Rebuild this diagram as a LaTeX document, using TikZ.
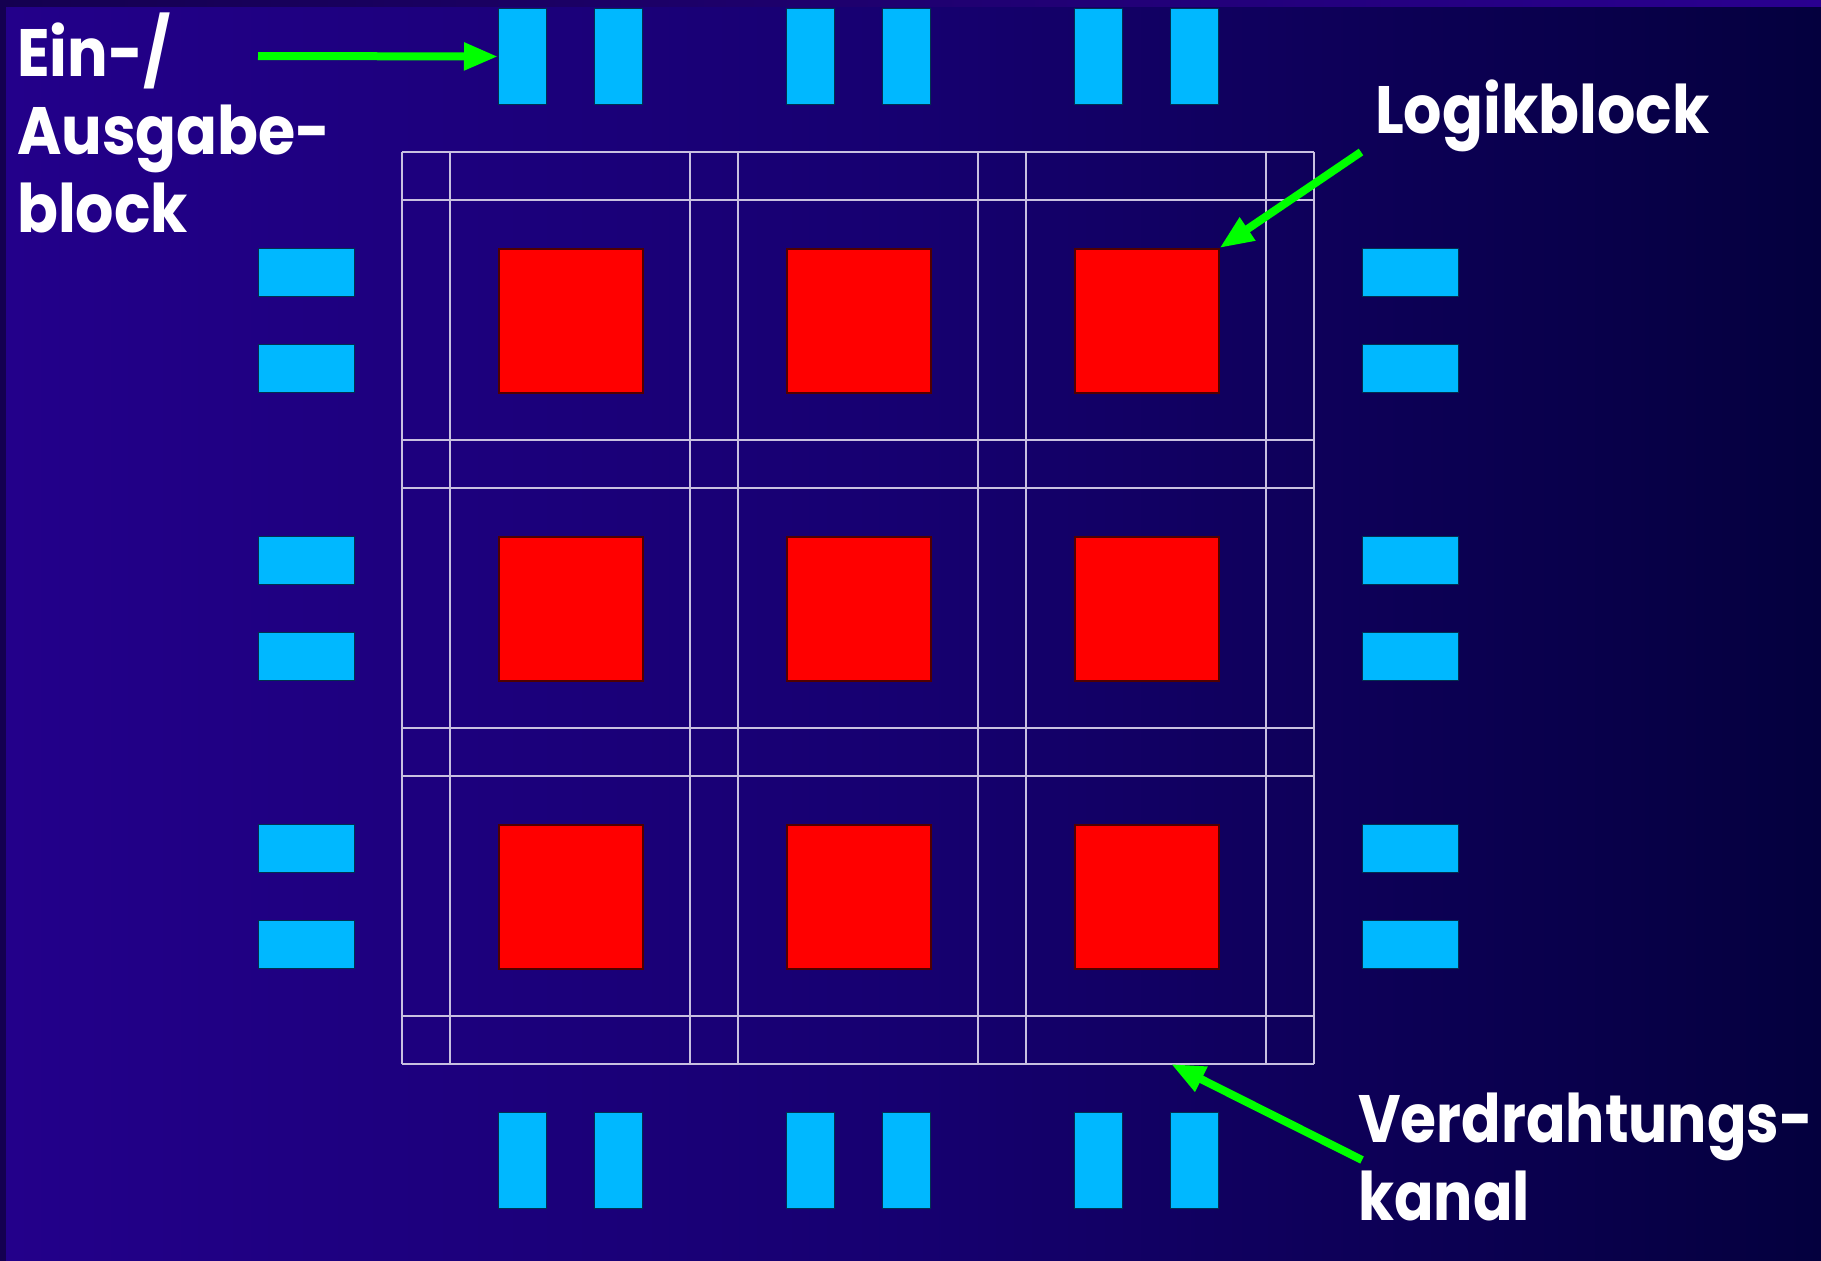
\documentclass[tikz,border=0pt]{standalone}
\usepackage{fontspec}
\newfontfamily\lblfont{Poppins}[FakeStretch=0.9]
\newfontfamily\lblnarrow{Poppins}[FakeStretch=0.87]
\usetikzlibrary{arrows.meta}
\definecolor{bgL}{HTML}{23008A}
\definecolor{bgM}{HTML}{160070}
\definecolor{bgR}{HTML}{04003E}
\definecolor{frL}{HTML}{140050}
\definecolor{frR}{HTML}{2A0090}
\definecolor{padblue}{HTML}{00B8FF}
\definecolor{padedge}{HTML}{003050}
\definecolor{blkedge}{HTML}{500000}
\definecolor{arrgreen}{HTML}{00FF00}
\definecolor{gridc}{HTML}{C8C0E0}
\tikzset{
  logicblk/.style={fill=red, draw=blkedge, line width=1.5pt, minimum width=144pt, minimum height=144pt, inner sep=0pt, anchor=north west},
  padv/.style={fill=padblue, draw=padedge, line width=1pt, minimum width=48pt, minimum height=96pt, inner sep=0pt, anchor=north west},
  padh/.style={fill=padblue, draw=padedge, line width=1pt, minimum width=96pt, minimum height=48pt, inner sep=0pt, anchor=north west},
  gridline/.style={draw=gridc, line width=1.6pt},
  pointer/.style={draw=arrgreen, line width=8pt, -{Triangle[length=34pt,width=26pt]}},
  lbl/.style={text=white, inner sep=0pt, align=left, font=\lblfont\bfseries\fontsize{67}{78}\selectfont},
  lblN/.style={lbl, font=\lblnarrow\bfseries\fontsize{67}{78}\selectfont},
}
\begin{document}
\begin{tikzpicture}[x=1pt,y=-1pt]
\useasboundingbox (0,0) rectangle (1821,1261);
% background with frame
\shade[left color=frL, right color=frR] (0,0) rectangle (1821,1261);
\shade[left color=bgL, right color=bgR, middle color=bgM] (6,7) rectangle (1821,1261);
% routing grid
\foreach \v in {402,450,690,738,978,1026,1266,1314}{
  \draw[gridline] (\v,152) -- (\v,1064);
  \draw[gridline] (402,\v-250) -- (1314,\v-250);
}
% logic blocks
\foreach \r/\y in {1/248,2/536,3/824}{
  \foreach \c/\x in {1/498,2/786,3/1074}{
    \node[logicblk] (lb\r\c) at (\x,\y) {};
  }
}
% top and bottom pads
\foreach \c/\x in {1/498,2/594,3/786,4/882,5/1074,6/1170}{
  \node[padv] (pt\c) at (\x,8) {};
  \node[padv] (pb\c) at (\x,1112) {};
}
% left and right pads
\foreach \c/\y in {1/248,2/344,3/536,4/632,5/824,6/920}{
  \node[padh] (pl\c) at (258,\y) {};
  \node[padh] (pr\c) at (1362,\y) {};
}
% labels (base anchor = baseline of last line)
\node[lbl, anchor=base west] (lio) at (17,232) {Ein-/\\Ausgabe-\\block};
\node[lbl, anchor=base west] (llb) at (1375,133) {Logikblock};
\node[lblN, anchor=base west] (lvk) at (1358,1220) {Verdrahtungs-\\kanal};
% arrows
\coordinate (aio) at (258,56);
\coordinate (alb) at (1361,152);
\coordinate (avk) at (1362,1160);
\coordinate (vktip) at (1171,1064);
\draw[pointer] (aio) -- (pt1.west);
\draw[pointer] (alb) -- (lb13.north east);
\draw[pointer] (avk) -- (vktip);
\end{tikzpicture}
\end{document}
